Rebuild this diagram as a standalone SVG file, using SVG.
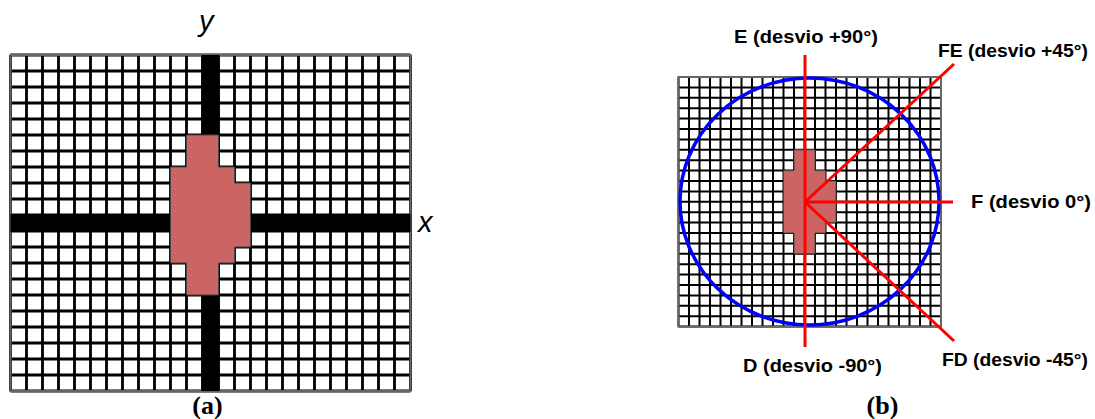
<svg xmlns="http://www.w3.org/2000/svg" width="1095" height="419" viewBox="0 0 1095 419">
<style>
.gridA{fill:none;stroke:#000;stroke-width:2.8}
.gridB{fill:none;stroke:#000;stroke-width:2}
.border{fill:none;stroke:#666;stroke-width:2}
.blob{fill:#cc6464;stroke:#444;stroke-width:1}
.ray{stroke:#ff0000;stroke-width:3;fill:none}
.lbl{font-family:"Liberation Sans",Arial,sans-serif;font-weight:bold;font-size:18px;fill:#000}
.axis{font-family:"Liberation Sans",Arial,sans-serif;font-style:italic;font-size:29px;fill:#000}
.cap{font-family:"Liberation Serif","Times New Roman",serif;font-weight:bold;font-size:26px;fill:#000;text-anchor:middle}
</style>
<rect width="1095" height="419" fill="#fff"/>

<g id="grid-a">
<rect x="10.5" y="55" width="400" height="336" fill="#fff"/>
<path class="gridA" d="M10.5 55v336m16-336v336m16-336v336m16-336v336m16-336v336m16-336v336m16-336v336m16-336v336m16-336v336m16-336v336m16-336v336m16-336v336m16-336v336m16-336v336m16-336v336m16-336v336m16-336v336m16-336v336m16-336v336m16-336v336m16-336v336m16-336v336m16-336v336m16-336v336m16-336v336m16-336v336"/>
<path class="gridA" d="M10.5 55h400m-400 16h400m-400 16h400m-400 16h400m-400 16h400m-400 16h400m-400 16h400m-400 16h400m-400 16h400m-400 16h400m-400 16h400m-400 16h400m-400 16h400m-400 16h400m-400 16h400m-400 16h400m-400 16h400m-400 16h400m-400 16h400m-400 16h400m-400 16h400m-400 16h400"/>
<rect class="border" x="10.5" y="55" width="400" height="336"/>
</g>

<g id="axes-a">
<rect x="201.5" y="55" width="18" height="336" fill="#000"/>
<rect x="10.5" y="214" width="400" height="18" fill="#000"/>
</g>

<g id="shape-a">
<polygon class="blob" points="186.5,135 218.5,135 218.5,167 234.5,167 234.5,183 250.5,183 250.5,247 234.5,247 234.5,263 218.5,263 218.5,295 186.5,295 186.5,263 170.5,263 170.5,167 186.5,167"/>
</g>

<g id="labels-a">
<text class="axis" x="199" y="31">y</text>
<text class="axis" x="418" y="232">x</text>
<text class="cap" x="207.5" y="414">(a)</text>
</g>

<g id="grid-b">
<rect x="678.5" y="77" width="262.5" height="249.6" fill="#fff"/>
<path class="gridB" d="M678.5 77v249.6m10.5-249.6v249.6m10.5-249.6v249.6m10.5-249.6v249.6m10.5-249.6v249.6m10.5-249.6v249.6m10.5-249.6v249.6m10.5-249.6v249.6m10.5-249.6v249.6m10.5-249.6v249.6m10.5-249.6v249.6m10.5-249.6v249.6m10.5-249.6v249.6m10.5-249.6v249.6m10.5-249.6v249.6m10.5-249.6v249.6m10.5-249.6v249.6m10.5-249.6v249.6m10.5-249.6v249.6m10.5-249.6v249.6m10.5-249.6v249.6m10.5-249.6v249.6m10.5-249.6v249.6m10.5-249.6v249.6m10.5-249.6v249.6m10.5-249.6v249.6"/>
<path class="gridB" d="M678.5 77h262.5m-262.5 10.4h262.5m-262.5 10.4h262.5m-262.5 10.4h262.5m-262.5 10.4h262.5m-262.5 10.4h262.5m-262.5 10.4h262.5m-262.5 10.4h262.5m-262.5 10.4h262.5m-262.5 10.4h262.5m-262.5 10.4h262.5m-262.5 10.4h262.5m-262.5 10.4h262.5m-262.5 10.4h262.5m-262.5 10.4h262.5m-262.5 10.4h262.5m-262.5 10.4h262.5m-262.5 10.4h262.5m-262.5 10.4h262.5m-262.5 10.4h262.5m-262.5 10.4h262.5m-262.5 10.4h262.5m-262.5 10.4h262.5m-262.5 10.4h262.5m-262.5 10.4h262.5"/>
<rect class="border" x="678.5" y="77" width="262.5" height="249.6"/>
</g>

<g id="shape-b">
<polygon class="blob" points="794,149.8 815,149.8 815,170.6 825.5,170.6 825.5,181 836,181 836,222.6 825.5,222.6 825.5,233 815,233 815,253.8 794,253.8 794,233 783.5,233 783.5,170.6 794,170.6"/>
</g>

<g id="circle-b">
<ellipse cx="809.5" cy="201.5" rx="129.5" ry="123.5" fill="none" stroke="#0000ff" stroke-width="3.5"/>
</g>

<g id="connectors">
<line class="ray" x1="805" y1="55" x2="805" y2="347"/>
<line class="ray" x1="805" y1="202" x2="953" y2="202"/>
<line class="ray" x1="805" y1="202" x2="954" y2="64"/>
<line class="ray" x1="805" y1="202" x2="954" y2="341"/>
</g>

<g id="labels-b">
<text class="lbl" x="734" y="43" textLength="144" lengthAdjust="spacingAndGlyphs">E (desvio +90°)</text>
<text class="lbl" x="938" y="57" textLength="150" lengthAdjust="spacingAndGlyphs">FE (desvio +45°)</text>
<text class="lbl" x="971" y="208" textLength="120" lengthAdjust="spacingAndGlyphs">F (desvio 0°)</text>
<text class="lbl" x="743" y="371.5" textLength="139" lengthAdjust="spacingAndGlyphs">D (desvio -90°)</text>
<text class="lbl" x="942" y="365.5" textLength="146" lengthAdjust="spacingAndGlyphs">FD (desvio -45°)</text>
<text class="cap" x="882.5" y="414">(b)</text>
</g>
</svg>
